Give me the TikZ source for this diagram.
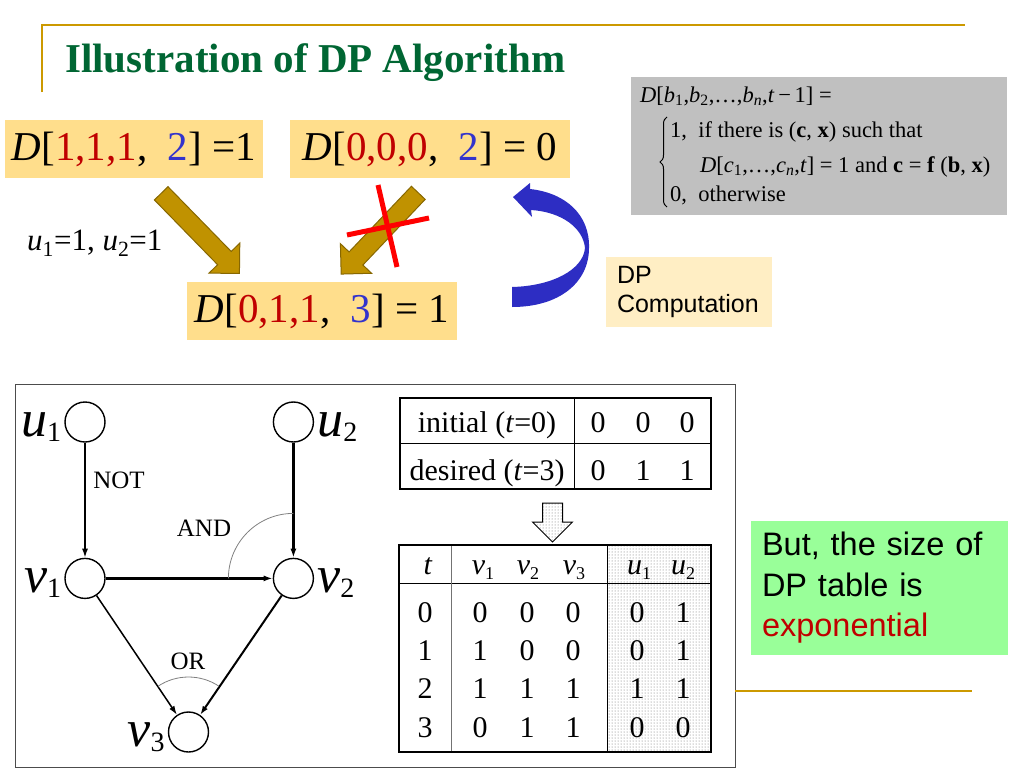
\documentclass[tikz,border=0pt]{standalone}
\usepackage{fontspec}
\setmainfont{Liberation Serif}
\setsansfont{Liberation Sans}
\usetikzlibrary{positioning,arrows.meta,shapes.arrows,patterns,decorations.pathreplacing}

\definecolor{titleGreen}{RGB}{0,102,51}
\definecolor{ruleGold}{RGB}{204,153,0}
\definecolor{boxGold}{RGB}{255,222,140}
\definecolor{arrowGold}{RGB}{192,146,0}
\definecolor{arrowEdge}{RGB}{135,103,0}
\definecolor{numRed}{RGB}{192,0,0}
\definecolor{numBlue}{RGB}{51,51,204}
\definecolor{paleGold}{RGB}{255,238,196}
\definecolor{formulaGray}{RGB}{192,192,192}
\definecolor{lightGreen}{RGB}{153,255,153}
\definecolor{dpBlue}{RGB}{45,45,195}

\newcommand\fsz[1]{\fontsize{#1}{#1}\selectfont}
\newcommand\redn[1]{\textcolor{numRed}{#1}}
\newcommand\bluen[1]{\textcolor{numBlue}{#1}}
\newcommand\glab[2]{\fsz{52}\textit{#1}\raisebox{-5pt}{\fsz{28}#2}}
\newcommand\hlab[2]{\textit{#1}\raisebox{-5pt}{\fsz{18}#2}}

\begin{document}
\begin{tikzpicture}[x=1pt, y=-1pt, node distance=115pt,
    dpbox/.style={fill=boxGold, minimum width=#1, minimum height=58pt, inner sep=0pt, font=\fsz{41}},
    goldarrow/.style={single arrow, draw=arrowEdge, fill=arrowGold, line width=1pt, inner sep=9pt,
      single arrow head extend=12pt, minimum height=112pt, minimum width=0pt},
    cross/.style={red, line width=5pt},
    formula/.style={anchor=base west, inner sep=0pt, font=\fsz{22.5}},
    vert/.style={circle, draw, line width=1.4pt, minimum size=40pt, inner sep=0pt},
    edge/.style={line width=1.5pt, -{Latex[length=9pt,width=6pt]}},
    gate/.style={inner sep=0pt, font=\fsz{25}},
    gatearc/.style={gray, line width=0.8pt},
    cell/.style={anchor=base, inner sep=0pt, font=\fsz{30}}
  ]
  \useasboundingbox (0,0) rectangle (1024,768);

  % title
  \draw[ruleGold, line width=2pt] (42,92) -- (42,25) -- (965,25);
  \node[anchor=base west, inner sep=0pt, text=titleGreen, font=\bfseries\fsz{41}] (title) at (65,72) {Illustration of DP Algorithm};

  % recurrence
  \fill[formulaGray] (631,77) rectangle (1007,215);
  \node[formula] (fl1) at (640,102) {\textit{D}[\textit{b}\textsubscript{1},\textit{b}\textsubscript{2},…,\textit{b}\textsubscript{\textit{n}},\textit{t}\,−\,1] =};
  \draw[line width=1pt, decorate, decoration={brace, amplitude=7pt}] (667,207) -- (667,117);
  \node[formula] (fl2) at (670,137) {1,\ \ if\ there is (\textbf{c}, \textbf{x}) such that};
  \node[formula] (fl3) at (700,172) {\textit{D}[\textit{c}\textsubscript{1},…,\textit{c}\textsubscript{\textit{n}},\textit{t}] = 1 and \textbf{c} = \textbf{f} (\textbf{b}, \textbf{x})};
  \node[formula] (fl4) at (670,201) {0,\ \ otherwise};

  % DP entries
  \node[dpbox=258pt] (dA) at (134,149) {\textit{D}[\redn{1,1,1},~~\bluen{2}] =1};
  \node[dpbox=280pt] (dB) at (430,149) {\textit{D}[\redn{0,0,0},~~\bluen{2}] = 0};
  \node[dpbox=270pt] (dC) at (322,311) {\textit{D}[\redn{0,1,1},~~\bluen{3}] = 1};
  \node[anchor=west, inner sep=0pt, font=\fsz{31}] (ucond) at (27,243) {\textit{u}\textsubscript{1}=1, \textit{u}\textsubscript{2}=1};

  \node[goldarrow, rotate=-45.7] (arrA) at (197,230) {};
  \node[goldarrow, rotate=-133.5] (arrB) at (383,230) {};
  \draw[cross] (347,235) -- (429,218);
  \draw[cross] (378,185) -- (397,267);

  % DP computation loop
  \fill[dpBlue] (512,287) .. controls (552,286) and (583,270) .. (585,248)
    .. controls (583,228) and (562,212) .. (531,210) -- (532,217) -- (513,197) -- (530,183) -- (530,189)
    .. controls (566,193) and (590,215) .. (589,248) .. controls (589,282) and (560,307) .. (512,307) -- cycle;
  \node[fill=paleGold, text width=144pt, inner xsep=11pt, minimum height=70pt, align=left,
    font=\sffamily\fontsize{25}{29}\selectfont] (dpc) at (689,292) {DP\\Computation};

  % figure panel
  \draw[black!70, line width=1pt] (15,384) rectangle (735,767);

  % network
  \node[vert] (u1) at (85,422) {};
  \node[vert] (v1) [below=of u1] {};
  \node[vert] (v2) [right=167pt of v1] {};
  \node[vert] (u2) [above=of v2] {};
  \node[vert] (v3) at (188.5,732) {};
  \node[left=3pt of u1, yshift=-5pt, inner sep=0pt] (lu1) {\glab{u}{1}};
  \node[right=3pt of u2, yshift=-5pt, inner sep=0pt] (lu2) {\glab{u}{2}};
  \node[left=3pt of v1, yshift=-5pt, inner sep=0pt] (lv1) {\glab{v}{1}};
  \node[right=3pt of v2, yshift=-5pt, inner sep=0pt] (lv2) {\glab{v}{2}};
  \node[left=3pt of v3, yshift=-5pt, inner sep=0pt] (lv3) {\glab{v}{3}};
  \draw[edge] (u1) -- (v1);
  \draw[edge, line width=2.5pt] (u2) -- (v2);
  \draw[edge, line width=2.5pt] (v1) -- (v2);
  \draw[edge] (v1) -- (v3);
  \draw[edge, line width=2pt] (v2) -- (v3);
  \draw[gatearc] ([yshift=65pt]v2.center) arc[start angle=90, end angle=180, radius=65pt];
  \draw[gatearc] ([shift={(123.6:55pt)}]v3.center) arc[start angle=123.6, end angle=56.4, radius=55pt];
  \node[gate] (gNot) at (119,480) {NOT};
  \node[gate] (gAnd) at (204,528) {AND};
  \node[gate] (gOr) at (188,661) {OR};

  % initial / desired states
  \draw[line width=2pt] (400,398) rectangle (711,489);
  \draw[line width=1pt] (400,443) -- (711,443);
  \draw[line width=1pt] (574,398) -- (574,489);
  \node[cell] (init) at (487,432) {initial (\textit{t}=0)};
  \node[cell] (goal) at (487,480) {desired (\textit{t}=3)};
  \foreach \x/\a/\b in {598/0/0, 643/0/1, 687/0/1} {
    \node[cell] (init\x) at (\x,432) {\a};
    \node[cell] (goal\x) at (\x,480) {\b};
  }

  \node[single arrow, draw, pattern=dots, pattern color=black!60, line width=1pt, inner sep=9.5pt,
    single arrow head extend=10pt, minimum height=39pt, minimum width=0pt, rotate=-90] (down) at (552.5,517.5) {};

  % DP table
  \fill[pattern=dots, pattern color=black!60] (607,545) rectangle (711,752);
  \draw[line width=1pt] (607,545) -- (607,752);
  \draw[line width=1pt] (399,583) -- (711,583);
  \draw[black!55, line width=1pt] (451,545) -- (451,752);
  \draw[line width=2pt] (399,545) rectangle (711,752);
  \node[cell] (hT) at (428,574) {\textit{t}};
  \node[cell] (hV1) at (483,574) {\hlab{v}{1}};
  \node[cell] (hV2) at (528,574) {\hlab{v}{2}};
  \node[cell] (hV3) at (574,574) {\hlab{v}{3}};
  \node[cell] (hU1) at (639,574) {\hlab{u}{1}};
  \node[cell] (hU2) at (683,574) {\hlab{u}{2}};
  \foreach \t/\y/\a/\b/\c/\d/\e in {0/622/0/0/0/0/1, 1/660/1/0/0/0/1, 2/698/1/1/1/1/1, 3/737/0/1/1/0/0} {
    \node[cell] (r\t) at (425,\y) {\t};
    \node[cell] (r\t-a) at (480,\y) {\a};
    \node[cell] (r\t-b) at (527,\y) {\b};
    \node[cell] (r\t-c) at (573,\y) {\c};
    \node[cell] (r\t-d) at (637,\y) {\d};
    \node[cell] (r\t-e) at (683,\y) {\e};
  }

  % remark
  \draw[ruleGold, line width=2pt] (735,691) -- (972,691);
  \node[fill=lightGreen, text width=235pt, inner xsep=11pt, minimum height=134pt, align=left,
    font=\sffamily\fontsize{32.5}{40.5}\selectfont] (remark) at (879.5,588) {But, the size of\\DP table is\\\textcolor{numRed}{exponential}};
\end{tikzpicture}
\end{document}
